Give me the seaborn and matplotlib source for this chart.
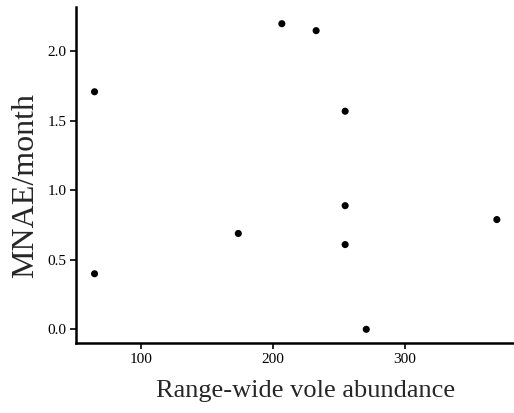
import matplotlib
matplotlib.use("Agg")
import matplotlib.pyplot as plt
import seaborn as sns
import pandas as pd

# values
vole_abundance = [65, 65, 207, 233, 255, 255, 255, 174, 370, 271]
mnae_month = [1.71, 0.40, 2.20, 2.15, 1.57, 0.89, 0.61, 0.69, 0.79, 0.00]
x_ticks = [100, 200, 300]
y_ticks = [0.0, 0.5, 1.0, 1.5, 2.0]

df = pd.DataFrame({"abundance": vole_abundance, "mnae": mnae_month})

sns.set_style("ticks")
plt.rcParams['font.family'] = ['Liberation Serif', 'DejaVu Serif']

fig = plt.figure(figsize=(5.14, 4.13), dpi=100)
ax = fig.add_axes([0.148, 0.169, 0.852, 0.814])

sns.scatterplot(data=df, x="abundance", y="mnae", color="black", s=26,
                edgecolor="none", ax=ax)

ax.set_xlim(51, 383)
ax.set_ylim(-0.1, 2.32)
ax.set_xticks(x_ticks)
ax.set_yticks(y_ticks)
ax.set_yticklabels([f"{v:.1f}" for v in y_ticks])
ax.tick_params(axis="both", direction="out", length=4, width=1.2,
               labelsize=11, colors="black", pad=3)

for side in ["top", "right"]:
    ax.spines[side].set_visible(False)
for side in ["left", "bottom"]:
    ax.spines[side].set_linewidth(1.8)
    ax.spines[side].set_color("black")

ax.set_xlabel("Range-wide vole abundance", fontsize=19, labelpad=10)
ax.set_ylabel("MNAE/month", fontsize=23, labelpad=5)
# labels sit a little off-centre in the reference
ax.xaxis.label.set_x(0.523)
ax.yaxis.label.set_y(0.47)

fig.savefig("out.png", dpi=100)
